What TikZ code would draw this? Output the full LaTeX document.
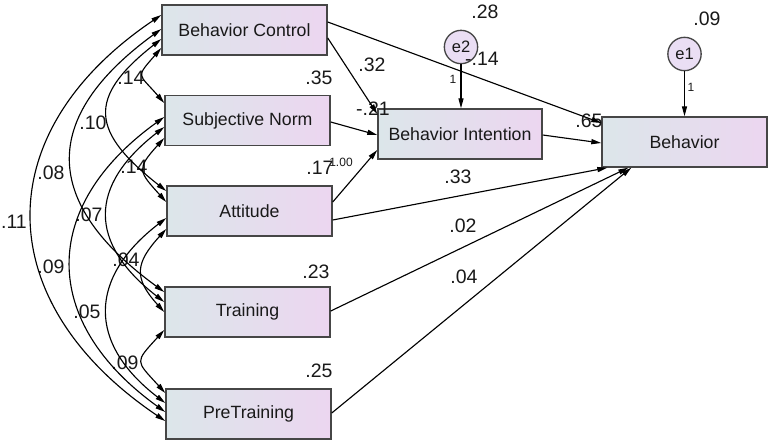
\documentclass[tikz,border=0pt]{standalone}
\usepackage{fontspec}
\setmainfont{Liberation Sans}
\usetikzlibrary{arrows.meta}
\definecolor{boxL}{RGB}{220,230,234}
\definecolor{boxR}{RGB}{236,214,240}
\definecolor{boxline}{RGB}{70,70,70}
\definecolor{errfill}{RGB}{234,222,244}
\definecolor{ink}{RGB}{25,25,25}
\begin{document}
\begin{tikzpicture}[x=0.75pt,y=-0.75pt,
  var/.style={draw=boxline, line width=1.1pt, left color=boxL, right color=boxR,
    minimum width=123.75pt, minimum height=37.5pt, inner sep=0pt, text=ink,
    font=\fontsize{13.3}{16}\selectfont},
  err/.style={circle, draw=boxline, line width=1pt, fill=errfill, inner sep=0pt,
    minimum size=25pt, text=ink, font=\fontsize{12.4}{14}\selectfont},
  est/.style={inner sep=0pt, text=ink, font=\fontsize{14.6}{17}\selectfont},
  fix/.style={inner sep=0pt, text=ink, font=\fontsize{9}{10}\selectfont},
  reg/.style={draw=black, line width=0.85pt, -{Triangle[length=7.5pt,width=3.8pt]}},
  cov/.style={draw=black, line width=0.85pt,
    {Triangle[length=7.5pt,width=3.8pt]}-{Triangle[length=7.5pt,width=3.8pt]}},
]
\useasboundingbox (0,0) rectangle (770,443);

% observed and latent variables
\node[var] (bc)  at (244.5,30)  {Behavior Control};
\node[var] (sn)  at (247.5,120.5) {Subjective Norm};
\node[var] (att) at (249.5,211) {Attitude};
\node[var] (tr)  at (247.5,312) {Training};
\node[var] (pre) at (248.5,414) {PreTraining};
\node[var, minimum width=123pt] (bi) at (460,134) {Behavior Intention};
\node[var] (beh) at (684.5,142) {Behavior};
\node[err] (e2) at (461,47) {e2};
\node[err] (e1) at (684.5,54) {e1};

% estimates
\node[est] (v28) at (485,12) {.28};
\node[est] (v14e) at (482,59) {-.14};
\node[est] (v09e) at (707,19) {.09};
\node[est] (v32) at (372,65) {.32};
\node[est] (v35) at (319,78) {.35};
\node[est] (v21) at (373,109) {-.21};
\node[est] (v17) at (320,168) {.17};
\node[fix] (v100) at (341,162) {1.00};
\node[est] (v65) at (589,121) {.65};
\node[est] (v33) at (458,177) {.33};
\node[est] (v02) at (463,226) {.02};
\node[est] (v04) at (464,277) {.04};
\node[est] (v23) at (316,272) {.23};
\node[est] (v25) at (319,371) {.25};
\node[fix] (f2) at (453,79) {1};
\node[fix] (f1) at (691,87) {1};

% covariance estimates
\node[est] (c1) at (131,78)  {.14};
\node[est] (c2) at (93,123)  {.10};
\node[est] (c3) at (134,167) {.14};
\node[est] (c4) at (51,173)  {.08};
\node[est] (c5) at (89,215)  {.07};
\node[est] (c6) at (14,222)  {.11};
\node[est] (c7) at (126,260) {.04};
\node[est] (c8) at (51,267)  {.09};
\node[est] (c9) at (87,312)  {.05};
\node[est] (c10) at (125,363) {.09};

% regression paths
\draw[reg] ([shift={(0,8)}]bc.east) -- ([shift={(0,-20)}]bi.west);
\draw[reg] ([shift={(0,-8)}]bc.east) -- ([shift={(0,-19)}]beh.west);
\draw[reg] ([shift={(0,1.5)}]sn.east) -- ([shift={(0,1)}]bi.west);
\draw[reg] ([shift={(0,-9)}]att.east) -- ([shift={(0,16)}]bi.west);
\draw[reg] ([shift={(0,9)}]att.east) -- ([shift={(6,0)}]beh.south west);
\draw[reg] ([shift={(0,1)}]bi.east) -- ([shift={(0,1)}]beh.west);
\draw[reg] ([shift={(0,-1)}]tr.east) -- ([shift={(27,0)}]beh.south west);
\draw[reg] ([shift={(0,-1)}]pre.east) -- ([shift={(30,0)}]beh.south west);
\draw[reg] (e2) -- (e2 |- bi.north);
\draw[reg] (e1) -- (e1 |- beh.north);

% covariances among the exogenous variables
\draw[cov] ([shift={(0,-15)}]bc.west) .. controls +(-175,118) and +(-175,-118) .. ([shift={(0,7)}]pre.west);
\draw[cov] ([shift={(0,-1)}]bc.west) .. controls +(-122,89) and +(-122,-89) .. ([shift={(0,-20)}]tr.west);
\draw[cov] ([shift={(0,-3.5)}]sn.west) .. controls +(-125,90) and +(-125,-90) .. ([shift={(0,-2)}]pre.west);
\draw[cov] ([shift={(0,9)}]bc.west) .. controls +(-75,59) and +(-75,-59) .. ([shift={(0,-20)}]att.west);
\draw[cov] ([shift={(0,6.5)}]sn.west) .. controls +(-76,59) and +(-76,-59) .. ([shift={(0,-10)}]tr.west);
\draw[cov] ([shift={(0,7)}]att.west) .. controls +(-78,60) and +(-78,-60) .. ([shift={(0,-11)}]pre.west);
\draw[cov] ([shift={(0,18)}]bc.west) .. controls +(-26,30) and +(-26,-30) .. ([shift={(0,-17.5)}]sn.west);
\draw[cov] ([shift={(0,17.5)}]sn.west) .. controls +(-28,31) and +(-28,-31) .. ([shift={(0,-9)}]att.west);
\draw[cov] ([shift={(0,18)}]att.west) .. controls +(-31,34) and +(-31,-34) .. (tr.west);
\draw[cov] ([shift={(0,18)}]tr.west) .. controls +(-30,33) and +(-30,-33) .. ([shift={(0,-21)}]pre.west);
\end{tikzpicture}
\end{document}
